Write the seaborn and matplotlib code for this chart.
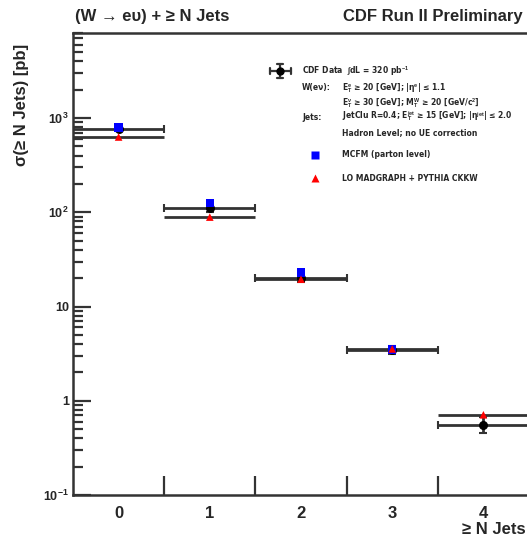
import numpy as np
import pandas as pd
import matplotlib
matplotlib.use("Agg")
import matplotlib.pyplot as plt
import seaborn as sns

# Inclusive jet multiplicity bins
n_jets = [0, 1, 2, 3, 4]
tick_labels = ["0", "1", "2", "3", "4"]

# Measured cross sections sigma(>= N jets) [pb] with uncertainties
data_xsec = [770, 110, 19.9, 3.45, 0.56]
data_err = [45, 8, 1.5, 0.35, 0.11]

# MCFM parton-level prediction (up to 3 jets)
mcfm_bins = [0, 1, 2, 3]
mcfm_xsec = [790, 125, 23.0, 3.5]

# LO MADGRAPH + PYTHIA prediction
mg_xsec = [630, 89, 19.5, 3.55, 0.71]

sns.set_style("ticks")
plt.rcParams["font.family"] = ["Liberation Sans", "DejaVu Sans"]
plt.rcParams["font.weight"] = "bold"
plt.rcParams["mathtext.fontset"] = "custom"
plt.rcParams["mathtext.rm"] = "Liberation Sans:bold"
plt.rcParams["mathtext.it"] = "Liberation Sans:bold"
plt.rcParams["mathtext.bf"] = "Liberation Sans:bold"

W, H = 527, 540
fig = plt.figure(figsize=(W / 100, H / 100), dpi=100)
ax_l, ax_r, ax_t, ax_b = 73, 529, 33, 495
ax = fig.add_axes([ax_l / W, 1 - ax_b / H, (ax_r - ax_l) / W, (ax_b - ax_t) / H])

line_col = "#333333"

# MADGRAPH prediction drawn as a flat segment across each bin
ax.errorbar(n_jets, mg_xsec, xerr=0.5, fmt="none", ecolor=line_col,
            elinewidth=2.0, capsize=0, zorder=2)

# Data with bin-width horizontal bars and statistical vertical bars
ax.errorbar(n_jets, data_xsec, xerr=0.5, yerr=data_err, fmt="o",
            color="black", ms=5.5, ecolor=line_col, elinewidth=2.0,
            capsize=3, capthick=1.5, zorder=3)

df_mcfm = pd.DataFrame({"n": mcfm_bins, "xsec": mcfm_xsec})
df_mg = pd.DataFrame({"n": n_jets, "xsec": mg_xsec})
sns.scatterplot(data=df_mcfm, x="n", y="xsec", ax=ax, marker="s", s=38,
                color="#0000ff", edgecolor="none", zorder=4, legend=False)
sns.scatterplot(data=df_mg, x="n", y="xsec", ax=ax, marker="^", s=30,
                color="#ff0000", edgecolor="none", zorder=5, legend=False)

ax.set_yscale("log")
ax.set_ylim(0.1, 8000)
ax.set_xlim(-0.5, 4.5)

# Axis ticks: labels at bin centres, tick marks at bin edges
ax.set_xticks(n_jets)
ax.set_xticklabels(tick_labels, fontsize=12, fontweight="bold")
ax.set_xticks([0.5, 1.5, 2.5, 3.5], minor=True)
ax.tick_params(axis="x", which="major", length=0, pad=8)
ax.tick_params(axis="x", which="minor", direction="in", length=14, width=1.6,
               color=line_col)
ax.set_yticks([0.1, 1, 10, 100, 1000])
ax.set_yticklabels([r"$10^{-1}$", "1", "10", r"$10^{2}$", r"$10^{3}$"],
                   fontsize=9, fontweight="bold")
ax.yaxis.set_minor_locator(matplotlib.ticker.LogLocator(base=10, subs=np.arange(2, 10)))
ax.yaxis.set_minor_formatter(matplotlib.ticker.NullFormatter())
ax.tick_params(axis="y", which="major", direction="in", length=13, width=1.6,
               color=line_col, pad=3)
ax.tick_params(axis="y", which="minor", direction="in", length=7, width=1.6,
               color=line_col)
for s in ax.spines.values():
    s.set_linewidth(1.8)
    s.set_color(line_col)
ax.set_xlabel("")
ax.set_ylabel("")

# Headers and axis titles
fig.text(75 / W, 1 - 16 / H, "(W → eυ) + ≥ N Jets",
         fontsize=12, fontweight="bold", va="center", ha="left")
fig.text(523 / W, 1 - 16 / H, "CDF Run II Preliminary", fontsize=12,
         fontweight="bold", va="center", ha="right")
fig.text(22 / W, 1 - 105 / H, "σ(≥ N Jets) [pb]", fontsize=12,
         fontweight="bold", rotation=90, va="center", ha="center")
fig.text(526 / W, 1 - 530 / H, "≥ N Jets", fontsize=12, fontweight="bold",
         va="center", ha="right")

# Key with data marker, cut summary and prediction markers
T = ax.transAxes
ax.plot([0.431, 0.477], [0.918, 0.918], color=line_col, lw=1.6, transform=T,
        clip_on=False, zorder=6)
ax.plot([0.454, 0.454], [0.903, 0.933], color=line_col, lw=1.6, transform=T,
        clip_on=False, zorder=6)
for xe in (0.431, 0.477):
    ax.plot([xe, xe], [0.911, 0.925], color=line_col, lw=1.6, transform=T, zorder=6)
for ye in (0.903, 0.933):
    ax.plot([0.448, 0.460], [ye, ye], color=line_col, lw=1.6, transform=T, zorder=6)
ax.plot([0.454], [0.918], "o", color="black", ms=5, transform=T, zorder=7)
ax.plot([0.531], [0.736], "s", color="#0000ff", ms=5.5, mec="none", transform=T)
ax.plot([0.531], [0.686], "^", color="#ff0000", ms=5.5, mec="none", transform=T)

kw = dict(transform=T, fontsize=5.5, fontweight="bold", va="center",
          family=["DejaVu Sans"])
x1, x2 = 0.502, 0.590
ax.text(x1, 0.918, r"CDF Data  $\int$dL = 320 pb$^{-1}$", **kw)
ax.text(x1, 0.882, "W(eν):", **kw)
ax.text(x2, 0.882, r"E$_T^e$ ≥ 20 [GeV]; |η$^e$| ≤ 1.1", **kw)
ax.text(x2, 0.850, r"E$_T^\nu$ ≥ 30 [GeV]; M$_T^W$ ≥ 20 [GeV/c$^2$]", **kw)
ax.text(x1, 0.818, "Jets:", **kw)
ax.text(x2, 0.818, r"JetClu R=0.4; E$_T^{jet}$ ≥ 15 [GeV]; |η$^{jet}$| ≤ 2.0", **kw)
ax.text(x2, 0.784, "Hadron Level; no UE correction", **kw)
ax.text(x2, 0.736, "MCFM (parton level)", **kw)
ax.text(x2, 0.686, "LO MADGRAPH + PYTHIA CKKW", **kw)

fig.savefig("out.png", dpi=100)
